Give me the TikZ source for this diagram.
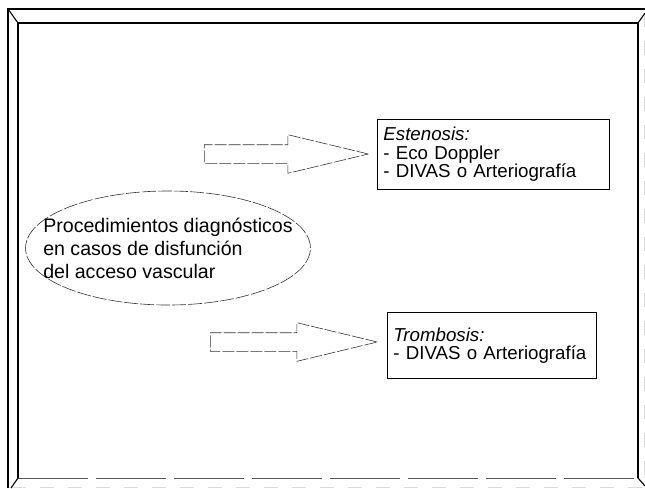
\documentclass[tikz,border=0pt]{standalone}
\usepackage{fontspec}
\setmainfont{Liberation Sans}
\usetikzlibrary{positioning, shapes.geometric, shapes.arrows}

\begin{document}
\begin{tikzpicture}[
        x=1pt, y=-1pt,
        frame/.style={line width=1.1pt, black},
        faint/.style={line width=0.5pt, black!15, dash pattern=on 14pt off 14pt},
        bigarrow/.style={single arrow, draw=black!80, line width=0.6pt, dash pattern=on 12pt off 2pt,
            inner xsep=0pt, inner ysep=9pt, single arrow head extend=10pt,
            single arrow tip angle=27, single arrow head indent=0pt},
        diag/.style={ellipse, draw=black!80, line width=0.6pt, dash pattern=on 14pt off 2pt,
            inner xsep=-24pt, inner ysep=10pt, align=left,
            font=\fontsize{19.6}{23}\selectfont},
        result/.style={rectangle, draw, line width=0.9pt, anchor=north west, inner xsep=6pt,
            align=left, font=\fontsize{18.7}{18.5}\selectfont},
    ]
    \useasboundingbox (0,0) rectangle (645,488);

        % Draw the frame
        \draw[frame] (8,488) -- (8,9) -- (645,9);
        \draw[faint] (644,13) -- (644,486);
        \draw[faint] (12,487) -- (645,487);
        \draw[frame] (18,478) -- (18,23) -- (638,23) -- (638,478);
        \draw[line width=0.8pt, black!65, dash pattern=on 70pt off 8pt] (18,478) -- (638,478);
        \draw[frame] (8,9) -- (18,23);
        \draw[frame] (638,23) -- (645,13);
        \draw[frame] (18,478) -- (11,488);
        \draw[frame] (638,478) -- (645,486);

        % Draw the central ellipse
        \node[diag] (diag) at (168,248) {Procedimientos diagnósticos\\en casos de disfunción\\del acceso vascular};

        % Draw the two result boxes
        \node[result, text width=220pt, minimum height=70pt] (esten) at (377,119)
            {\textit{Estenosis:}\\- Eco Doppler\\- DIVAS o Arteriografía};
        \node[result, text width=197pt, minimum height=66pt] (tromb) at (387,312)
            {\textit{Trombosis:}\\- DIVAS o Arteriografía};

        % Draw the block arrows
        \node[bigarrow, minimum height=164pt, anchor=tail] (arr-esten) at (204,154) {};
        \node[bigarrow, minimum height=167pt, anchor=tail] (arr-tromb) at (210,342) {};
    \end{tikzpicture}
\end{document}
